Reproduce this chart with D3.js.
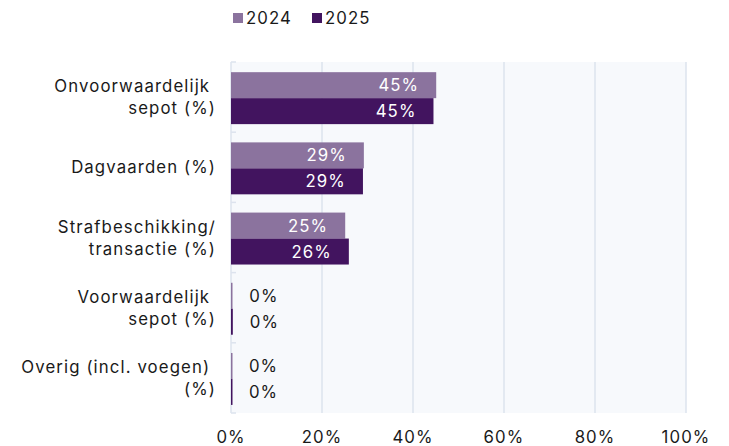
<!DOCTYPE html>
<html>
<head>
<meta charset="utf-8">
<script src="https://cdn.jsdelivr.net/npm/d3@7"></script>
<style>
  body { margin: 0; background: #fff; }
  svg text { font-family: Inter, "Noto Sans", sans-serif; letter-spacing: 1.1px; }
</style>
</head>
<body>
<svg id="chart" width="729" height="446"></svg>
<script>
const categories = [
    ["Onvoorwaardelijk ", "sepot (%)"],
    ["Dagvaarden (%)"],
    ["Strafbeschikking/", "transactie (%)"],
    ["Voorwaardelijk ", "sepot (%)"],
    ["Overig (incl. voegen) ", "(%)"]
];
const seriesNames = ["2024", "2025"];
const values2024 = [45.1, 29.2, 25.1, 0.3, 0.2];
const values2025 = [44.5, 29.0, 25.9, 0.4, 0.2];
const xTicks = [0, 20, 40, 60, 80, 100];
const colors = ["#8b739e", "#42145f"];

const svg = d3.select("#chart");
const margin = { top: 62, right: 43, bottom: 33, left: 231 };
const width = 729 - margin.left - margin.right;
const height = 446 - margin.top - margin.bottom;
const fs = 16.8;

const g = svg.append("g").attr("transform", `translate(${margin.left},${margin.top})`);

const x = d3.scaleLinear().domain([0, 100]).range([0, width]);
const y = d3.scaleBand().domain(d3.range(categories.length)).range([0, height]);
const inner = d3.scaleBand().domain(seriesNames).range([y.bandwidth() * 0.145, y.bandwidth() * 0.885]);

// plot background
g.append("rect")
    .attr("width", width).attr("height", height)
    .attr("fill", "#f7f9fc");

// gridlines
g.selectAll(".grid")
    .data(xTicks)
    .join("line")
    .attr("x1", d => x(d)).attr("x2", d => x(d))
    .attr("y1", 0).attr("y2", height)
    .attr("stroke", "#dde3ee")
    .attr("stroke-width", 1.5);

// category separators
g.selectAll(".sep")
    .data(d3.range(categories.length + 1))
    .join("line")
    .attr("x1", 0).attr("x2", 5)
    .attr("y1", d => d * y.step()).attr("y2", d => d * y.step())
    .attr("stroke", "#dde3ee")
    .attr("stroke-width", 1.5);

const data = [];
categories.forEach((c, i) => {
    data.push({ cat: i, series: "2024", value: values2024[i] });
    data.push({ cat: i, series: "2025", value: values2025[i] });
});

g.selectAll(".bar")
    .data(data)
    .join("rect")
    .attr("x", 0)
    .attr("y", d => y(d.cat) + inner(d.series))
    .attr("width", d => Math.max(x(d.value), 1.5))
    .attr("height", inner.bandwidth())
    .attr("fill", d => colors[seriesNames.indexOf(d.series)]);

g.selectAll(".val")
    .data(data)
    .join("text")
    .attr("x", d => d.value > 5 ? x(d.value) - 17 : x(d.value) + 17)
    .attr("y", d => y(d.cat) + inner(d.series) + inner.bandwidth() / 2)
    .attr("dy", "0.36em")
    .attr("text-anchor", d => d.value > 5 ? "end" : "start")
    .attr("font-size", fs)
    .attr("fill", d => d.value > 5 ? "#ffffff" : "#1a1a1a")
    .text(d => Math.round(d.value) + "%");

// category labels
const lab = g.selectAll(".cat")
    .data(categories)
    .join("text")
    .attr("text-anchor", "end")
    .attr("font-size", fs)
    .attr("fill", "#1a1a1a")
    .style("white-space", "pre");
lab.each(function (lines, i) {
    const cy = y(i) + y.bandwidth() / 2;
    d3.select(this).selectAll("tspan")
        .data(lines)
        .join("tspan")
        .attr("x", -15)
        .attr("y", (l, j) => cy + (j - (lines.length - 1) / 2) * 22)
        .attr("dy", "0.36em")
        .text(l => l);
});

// x axis labels
g.selectAll(".xt")
    .data(xTicks)
    .join("text")
    .attr("x", d => x(d))
    .attr("y", height + 24)
    .attr("dy", "0.36em")
    .attr("text-anchor", "middle")
    .attr("font-size", fs)
    .attr("fill", "#1a1a1a")
    .text(d => d + "%");

// legend
const legend = svg.append("g").attr("transform", "translate(233,18)");
const lx = [0, 79];
seriesNames.forEach((s, i) => {
    legend.append("rect")
        .attr("x", lx[i]).attr("y", -5)
        .attr("width", 10).attr("height", 10)
        .attr("fill", colors[i]);
    legend.append("text")
        .attr("x", lx[i] + 13).attr("y", 0)
        .attr("dy", "0.36em")
        .attr("font-size", fs)
        .attr("fill", "#1a1a1a")
        .text(s);
});
</script>
</body>
</html>
